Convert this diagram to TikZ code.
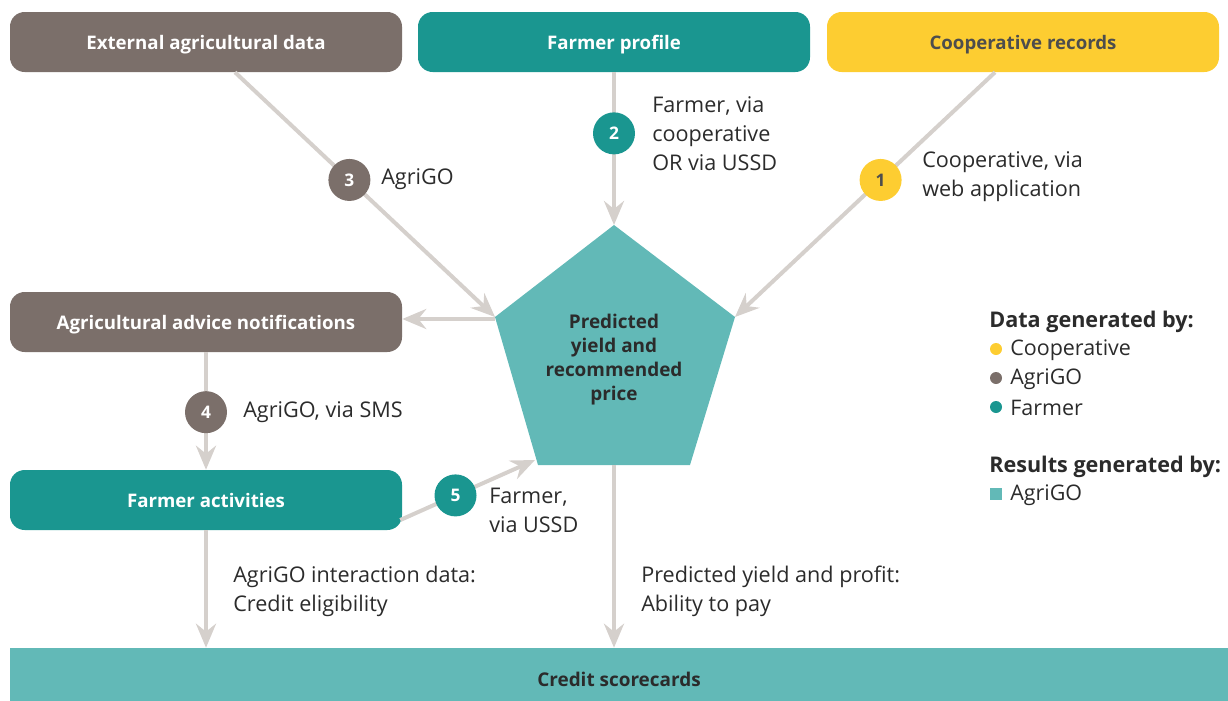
\documentclass[tikz,border=0pt]{standalone}
\usepackage{fontspec}
\setmainfont{Open Sans}
\usetikzlibrary{arrows.meta,calc}
\definecolor{cbrown}{HTML}{7B6F6A}
\definecolor{cteal}{HTML}{1A9690}
\definecolor{cyellow}{HTML}{FDCD31}
\definecolor{clteal}{HTML}{62B9B7}
\definecolor{cgrey}{HTML}{D5D0CC}
\definecolor{ctext}{HTML}{2B2B2B}
\definecolor{cdtext}{HTML}{4D4D4D}
\begin{document}
\begin{tikzpicture}[x=0.75pt,y=-0.75pt,
  box/.style={rounded corners=11pt, minimum width=294pt, minimum height=45pt, inner sep=0pt,
    text height=11.5pt, text depth=0pt,
    text=white, font=\bfseries\fontsize{14}{16}\selectfont},
  conn/.style={draw=cgrey, line width=3pt, -{Stealth[length=18pt,width=15pt,inset=6pt]}},
  badge/.style={circle, minimum size=31.5pt, inner sep=0pt, text=white, font=\bfseries\fontsize{13}{15}\selectfont},
  lbl/.style={anchor=west, align=left, inner sep=0pt, text=ctext, font=\fontsize{16.2}{21.75}\selectfont},
  pent/.style={align=center, inner sep=0pt, text=ctext, font=\bfseries\fontsize{14.2}{18}\selectfont},
  leghead/.style={anchor=west, inner sep=0pt, text=ctext, font=\bfseries\fontsize{16.2}{18}\selectfont},
  legitem/.style={anchor=west, inner sep=0pt, text=ctext, font=\fontsize{16.1}{18}\selectfont},
  dot/.style={circle, minimum size=9pt, inner sep=0pt}
]
\useasboundingbox (0,0) rectangle (1228,700);

% boxes
\node[box, fill=cbrown] (ext) at (206,42) {External agricultural data};
\node[box, fill=cteal] (prof) at (614,42) {Farmer profile};
\node[box, fill=cyellow, text=cdtext] (coop) at (1023,42) {Cooperative records};
\node[box, fill=cbrown] (adv) at (206,322) {Agricultural advice notifications};
\node[box, fill=cteal] (act) at (206,500) {Farmer activities};
\node[fill=clteal, minimum width=913.5pt, minimum height=46.5pt, inner sep=0pt,
  text height=11.5pt, text depth=0pt,
  text=ctext, font=\bfseries\fontsize{14.2}{16}\selectfont] (credit) at (619,679) {Credit scorecards};

% pentagon
\coordinate (pT) at (614,225);
\coordinate (pUL) at (495,317);
\coordinate (pUR) at (735,317);
\coordinate (pBL) at (538,465);
\coordinate (pBR) at (690,465);
\coordinate (pB) at (614,465);
\coordinate (pL) at (495,319);
\coordinate (pIn) at (535,460);
\fill[clteal] (pT) -- (pUR) -- (pBR) -- (pBL) -- (pUL) -- cycle;
\node[pent] (res) at (614,360) {Predicted\\yield and\\recommended\\price};

% connectors
\draw[conn] ($(ext.south)+(29,0)$) -- node[badge, fill=cbrown, pos=0.44] (b3) {3} (pUL);
\draw[conn] (prof.south) -- node[badge, fill=cteal, pos=0.40] (b2) {2} (pT);
\draw[conn] ($(coop.south)+(-28,0)$) -- node[badge, fill=cyellow, text=cdtext, pos=0.44] (b1) {1} (pUR);
\draw[conn] (pL) -- (pL -| adv.east);
\draw[conn] (adv.south) -- node[badge, fill=cbrown, pos=0.51] (b4) {4} (act.north);
\draw[conn] ($(act.east)+(-2,20)$) -- node[badge, fill=cteal, pos=0.41] (b5) {5} (pIn);
\draw[conn] (act.south) -- (act.south |- credit.north);
\draw[conn] (pB) -- (pB |- credit.north);

% labels
\node[lbl] (l3) at (381,179) {AgriGO};
\node[lbl] (l2) at (652,134) {Farmer, via\\cooperative\\OR via USSD};
\node[lbl] (l1) at (922,177) {Cooperative, via\\web application};
\node[lbl] (l4) at (243,412) {AgriGO, via SMS};
\node[lbl] (l5) at (489,510) {Farmer,\\via USSD};
\node[lbl] (l6) at (233,591) {AgriGO interaction data:\\Credit eligibility};
\node[lbl] (l7) at (641,591) {Predicted yield and profit:\\Ability to pay};

% legend
\node[leghead] (lh1) at (989,322) {Data generated by:};
\node[dot, fill=cyellow] (d1) at (996,349) {};
\node[legitem] (t1) at (1010,350) {Cooperative};
\node[dot, fill=cbrown] (d2) at (996,378) {};
\node[legitem] (t2) at (1010,379) {AgriGO};
\node[dot, fill=cteal] (d3) at (996,407) {};
\node[legitem] (t3) at (1010,408) {Farmer};
\node[leghead] (lh2) at (989,467) {Results generated by:};
\node[fill=clteal, minimum size=9pt, inner sep=0pt] (sq) at (996,494) {};
\node[legitem] (t4) at (1010,495) {AgriGO};
\end{tikzpicture}
\end{document}
